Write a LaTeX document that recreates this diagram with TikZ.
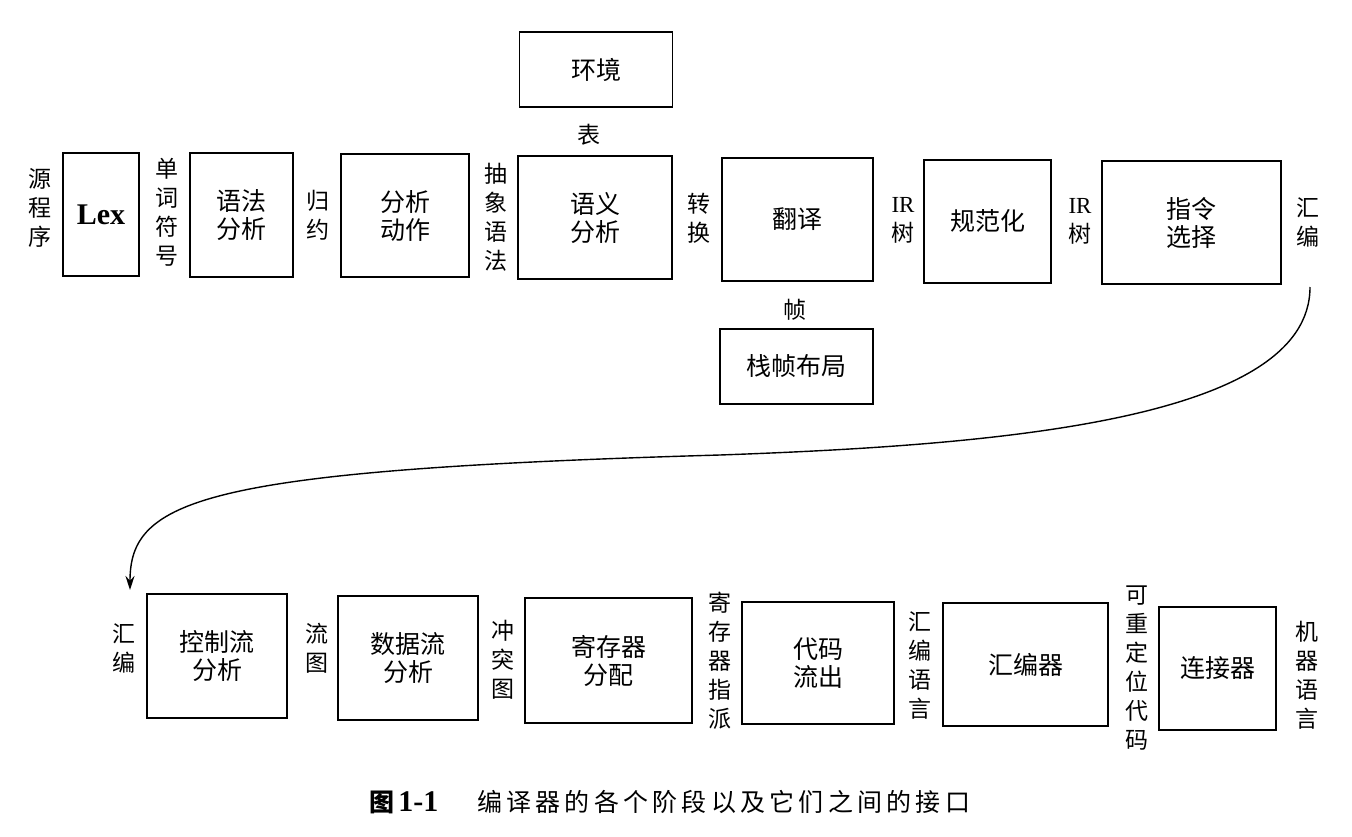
\documentclass[tikz,border=0pt]{standalone}
\usepackage{fontspec}
\setmainfont{Liberation Serif}
\newfontfamily\cjk{Noto Sans CJK SC}
\newfontfamily\cjkcap[LetterSpace=17]{Noto Sans CJK SC}
\usetikzlibrary{arrows.meta}
\begin{document}
\begin{tikzpicture}[x=1pt,y=-1pt,
  stage/.style={draw, line width=1.8pt, inner sep=0pt, outer sep=0pt,
    font=\cjk\fontsize{25}{28}\selectfont, align=center},
  lbl/.style={inner sep=0pt, font=\cjk\fontsize{23}{29}\selectfont, align=center},
  flow/.style={line width=1.4pt, -{Stealth[length=14pt,width=9pt]}}
]
\useasboundingbox[fill=white] (0,0) rectangle (1352,837);

% ---------- top row ----------
\node[lbl] (src) at (40,208) {源\\程\\序};
\node[stage, minimum width=76pt, minimum height=123pt] (lex) at (101,214.5)
  {\rmfamily\bfseries\fontsize{30}{30}\selectfont Lex};
\node[lbl] (tok) at (167,212) {单\\词\\符\\号};
\node[stage, minimum width=103pt, minimum height=124pt] (parse) at (241.5,215) {语法\\分析};
\node[lbl] (red) at (318,215) {归\\约};
\node[stage, minimum width=128pt, minimum height=123pt] (act) at (405,215.5) {分析\\动作};
\node[lbl] (ast) at (496,217) {抽\\象\\语\\法};
\node[stage, minimum width=154pt, minimum height=123pt] (sem) at (595,217.5) {语义\\分析};
\node[stage, minimum width=153pt, minimum height=75pt] (env) at (596,69.5) {环境};
\node[lbl] (tab) at (589,135) {表};
\node[lbl] (conv) at (699,218) {转\\换};
\node[stage, minimum width=151pt, minimum height=123pt] (trans) at (797.5,219.5) {翻译};
\node[lbl] (frm) at (795,310) {帧};
\node[stage, minimum width=153pt, minimum height=75pt] (frame) at (796.5,366.5) {栈帧布局};
\node[lbl] (ir1) at (903,220) {{\rmfamily\fontsize{23}{29}\selectfont IR}\\树};
\node[stage, minimum width=127pt, minimum height=123pt] (canon) at (987.5,221.5) {规范化};
\node[lbl] (ir2) at (1080,221) {{\rmfamily\fontsize{23}{29}\selectfont IR}\\树};
\node[stage, minimum width=179pt, minimum height=123pt] (isel) at (1191.5,222.5) {指令\\选择};
\node[lbl] (asmA) at (1308,222) {汇\\编};

% ---------- bottom row ----------
\node[lbl] (asmB) at (124,648) {汇\\编};
\node[stage, minimum width=140pt, minimum height=124pt] (cfa) at (217,656) {控制流\\分析};
\node[lbl] (fg) at (317,648) {流\\图};
\node[stage, minimum width=140pt, minimum height=124pt] (dfa) at (408,658) {数据流\\分析};
\node[lbl] (ig) at (503,660) {冲\\突\\图};
\node[stage, minimum width=167pt, minimum height=125pt] (ra) at (608.5,660.5) {寄存器\\分配};
\node[lbl] (rasg) at (720,661) {寄\\存\\器\\指\\派};
\node[stage, minimum width=152pt, minimum height=122pt] (emit) at (818,663) {代码\\流出};
\node[lbl] (asml) at (920,665) {汇\\编\\语\\言};
\node[stage, minimum width=165pt, minimum height=123pt] (asm) at (1025.5,664.5) {汇编器};
\node[lbl] (reloc) at (1137,668) {可\\重\\定\\位\\代\\码};
\node[stage, minimum width=117pt, minimum height=123pt] (link) at (1217.5,668.5) {连接器};
\node[lbl] (mach) at (1307,675) {机\\器\\语\\言};

% ---------- connector ----------
\coordinate (cs) at (1310,287);
\coordinate (ce) at (130,590);
\draw[flow] (cs) .. controls (1310,420) and (1000,445) .. (720,455)
  .. controls (200,470) and (130,500) .. (ce);

% ---------- caption ----------
\node[inner sep=0pt, anchor=west, font=\cjk\bfseries\fontsize{25}{28}\selectfont] (capnum) at (369,802)
  {图\,{\rmfamily\fontsize{30}{30}\selectfont 1-1}};
\node[inner sep=0pt, anchor=west, font=\cjkcap\fontsize{25}{28}\selectfont] (captxt) at (477,802)
  {编译器的各个阶段以及它们之间的接口};
\end{tikzpicture}
\end{document}
